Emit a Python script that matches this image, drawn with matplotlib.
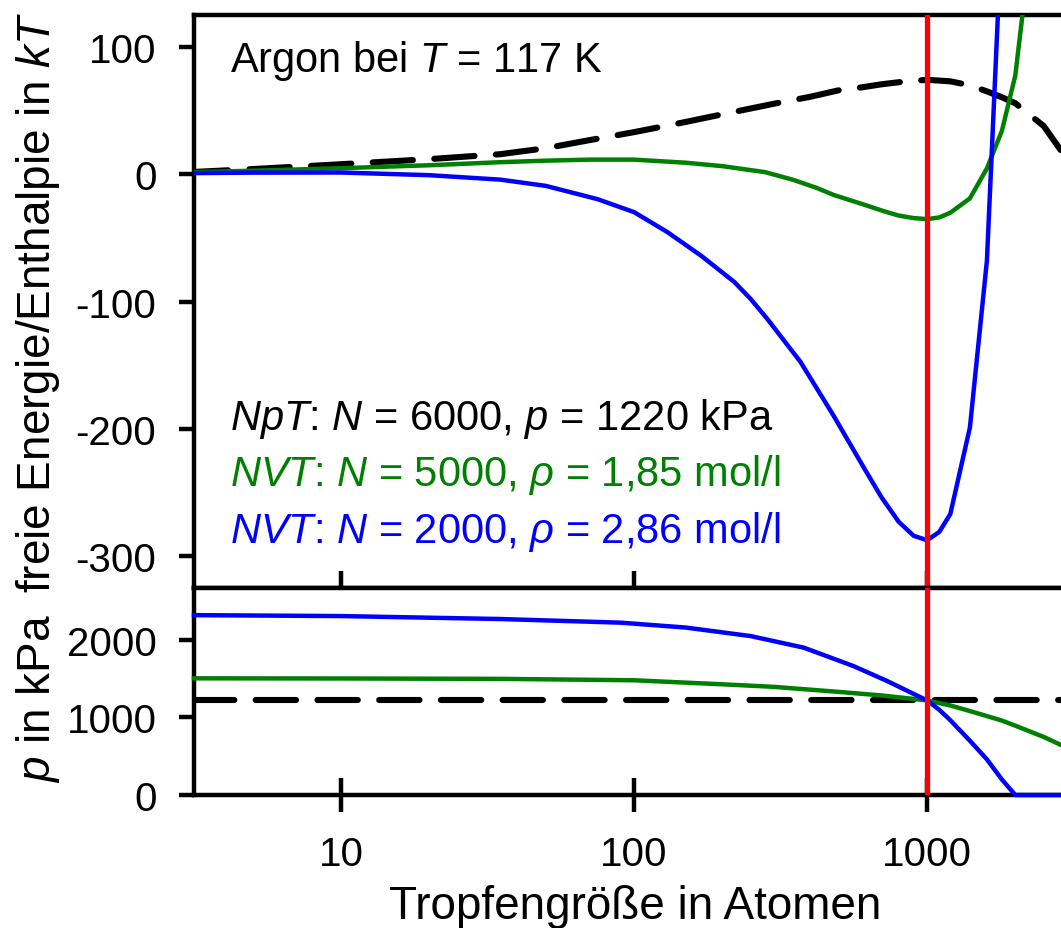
import matplotlib
matplotlib.use('Agg')
import matplotlib.pyplot as plt
from matplotlib.ticker import NullLocator

plt.rcParams['font.family'] = ['Liberation Sans', 'DejaVu Sans']
plt.rcParams['mathtext.fontset'] = 'custom'
plt.rcParams['mathtext.rm'] = 'Liberation Sans'
plt.rcParams['mathtext.it'] = 'Liberation Sans:italic'
plt.rcParams['axes.unicode_minus'] = False

# freie Enthalpie, NpT (N = 6000, p = 1220 kPa)
n_npt = [3, 5, 10, 20, 35, 50, 70, 100, 150, 200, 300, 400, 500, 600, 700, 800,
         900, 1000, 1200, 1400, 1600, 1800, 2000, 2500, 3000]
g_npt = [1.5, 4, 7.8, 11.8, 15.7, 20.4, 26.6, 33, 41, 47, 55.3, 60.8, 65.9, 68.2,
         70.6, 72.2, 73.3, 74.1, 72.9, 69.8, 65, 60.4, 55.7, 37.8, 12]

# freie Energie, NVT (N = 5000, rho = 1,85 mol/l)
n_nvt1 = [3, 5, 10, 20, 35, 50, 70, 100, 150, 200, 280, 350, 420, 480, 620, 710,
          800, 900, 1000, 1100, 1200, 1400, 1600, 1800, 2000, 2200]
f_nvt1 = [1.5, 2.7, 4.7, 7, 9.4, 10.6, 11.4, 11.4, 9, 6.3, 1.6, -4.5, -10.8,
          -16.3, -24.5, -29, -32.5, -34.5, -35.3, -34, -30.3, -19, 4.5, 34, 77.5,
          158]

# freie Energie, NVT (N = 2000, rho = 2,86 mol/l)
n_nvt2 = [3, 5, 10, 20, 35, 50, 75, 100, 130, 170, 220, 250, 285, 370, 480, 620,
          700, 800, 900, 1000, 1100, 1200, 1400, 1600, 1800]
f_nvt2 = [0.8, 1.2, 1.3, -0.8, -4.3, -9.2, -19.6, -29.8, -45.5, -64.3, -84.7, -98,
          -113.7, -147.5, -189.8, -233.7, -254, -273, -284, -287.5, -281, -267,
          -199, -68, 195]

# Druck in kPa
p_npt = 1220
n_p1 = [3.15, 10, 35, 100, 200, 300, 500, 700, 1000, 1200, 1400, 1600, 1800, 2000,
        2500, 2864]
p_nvt1 = [1505, 1503, 1498, 1480, 1428, 1395, 1330, 1284, 1220, 1155, 1083, 1018,
          960, 894, 749, 645]
n_p2 = [3.15, 10, 35, 90, 150, 250, 380, 560, 730, 1000, 1100, 1200, 1400, 1600,
        1800, 2000, 2864]
p_nvt2 = [2320, 2308, 2270, 2223, 2160, 2050, 1900, 1664, 1471, 1220, 1100, 965,
          700, 460, 200, 0, 0]

n_krit = 1000

fig = plt.figure(figsize=(10.61, 9.29), dpi=100)
ax1 = fig.add_axes([0.1828, 0.36598, 0.8172, 0.6168])
ax2 = fig.add_axes([0.1828, 0.14316, 0.8172, 0.22282])

lw = 3.2
ax1.plot(n_npt, g_npt, color='black', lw=4.4, dashes=(6.6, 3.5),
         dash_capstyle='round', zorder=3)
ax1.plot(n_nvt1, f_nvt1, color='green', lw=lw, zorder=3)
ax1.plot(n_nvt2, f_nvt2, color='blue', lw=lw, zorder=3)
ax1.axvline(n_krit, color='red', lw=3.8, zorder=4)

ax2.axhline(p_npt, color='black', lw=4.4, dashes=(6.6, 3.5),
            dash_capstyle='round', zorder=3)
ax2.plot(n_p1, p_nvt1, color='green', lw=lw, zorder=3, clip_on=False)
ax2.plot(n_p2, p_nvt2, color='blue', lw=lw, zorder=3, clip_on=False)
ax2.axvline(n_krit, color='red', lw=3.8, zorder=4)

for ax in (ax1, ax2):
    ax.set_xscale('log')
    ax.set_xlim(3.15, 2864)
    ax.set_xticks([10, 100, 1000])
    ax.xaxis.set_minor_locator(NullLocator())
    ax.spines['right'].set_visible(False)
    for s in ('left', 'top', 'bottom'):
        ax.spines[s].set_linewidth(3.2)
    ax.tick_params(axis='y', direction='out', length=11, width=3.2,
                   labelsize=29, pad=16, right=False)
    ax.tick_params(axis='x', direction='inout', length=24, width=3.2,
                   labelsize=29, pad=17, top=False)

ax1.set_ylim(-325, 125)
ax1.set_yticks([-300, -200, -100, 0, 100])
ax1.tick_params(axis='x', labelbottom=False)

ax2.set_ylim(0, 2670)
ax2.set_yticks([0, 1000, 2000])
ax2.set_xticklabels(['10', '100', '1000'])

ax1.set_ylabel('freie Energie/Enthalpie in $kT$', fontsize=33)
ax1.yaxis.set_label_coords(-0.152, 0.5)
ax2.set_ylabel('$p$ in kPa', fontsize=33)
ax2.yaxis.set_label_coords(-0.152, 0.47)
ax2.set_xlabel('Tropfengröße in Atomen', fontsize=33)
ax2.xaxis.set_label_coords(0.509, -0.43)

ax1.text(0.0415, 0.902, 'Argon bei $T$ = 117 K', transform=ax1.transAxes,
         fontsize=30, va='baseline')
ax1.text(0.0415, 0.2775, '$NpT$: $N$ = 6000, $p$ = 1220 kPa',
         transform=ax1.transAxes, fontsize=30, va='baseline', color='black')
ax1.text(0.0415, 0.18, r'$NVT$: $N$ = 5000, $\rho$ = 1,85 mol/l',
         transform=ax1.transAxes, fontsize=30, va='baseline', color='green')
ax1.text(0.0415, 0.08, r'$NVT$: $N$ = 2000, $\rho$ = 2,86 mol/l',
         transform=ax1.transAxes, fontsize=30, va='baseline', color='blue')

fig.savefig('out.png', dpi=100)
